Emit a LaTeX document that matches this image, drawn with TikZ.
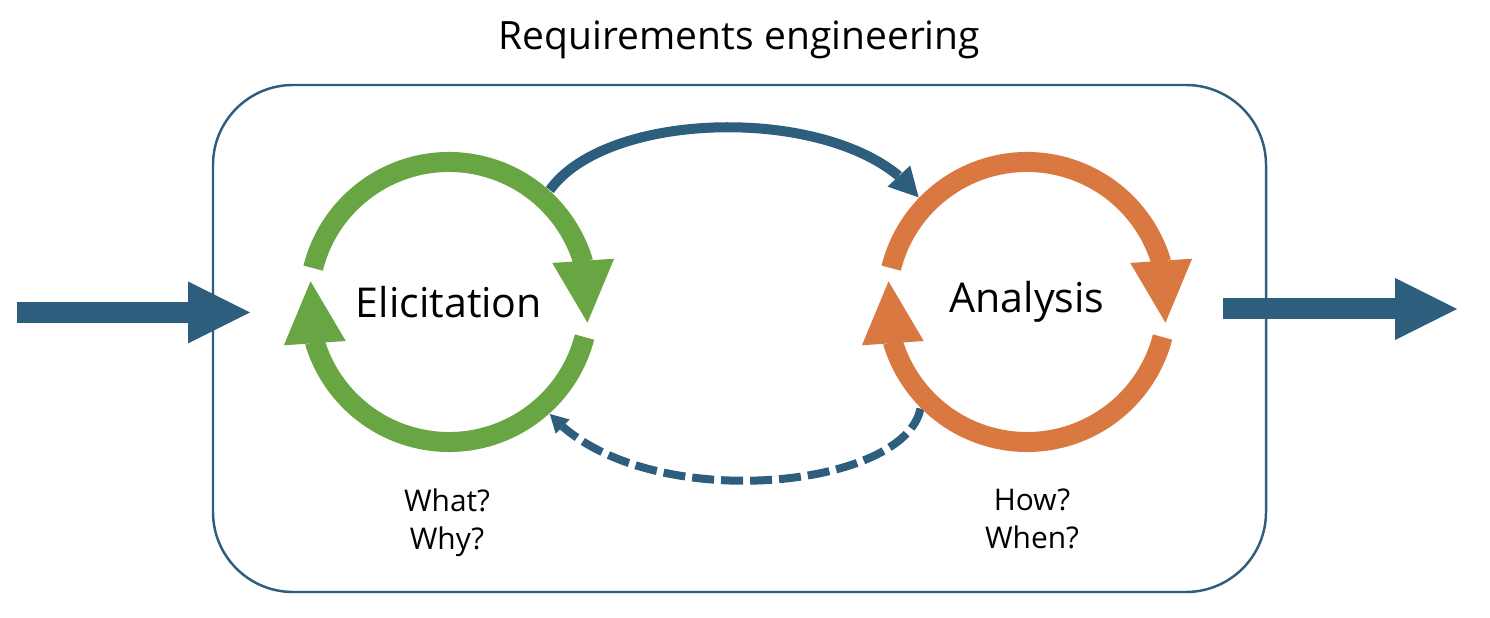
\documentclass[tikz,border=0pt]{standalone}
\usepackage{fontspec}
\setmainfont{Open Sans}
\usetikzlibrary{arrows.meta, bending, positioning}

\definecolor{reblue}{RGB}{46,94,126}
\definecolor{regreen}{RGB}{103,166,66}
\definecolor{reorange}{RGB}{218,120,66}

\begin{document}
\begin{tikzpicture}[
        frame_box/.style={rectangle, draw=reblue, line width=0.7pt, rounded corners=0.8cm, minimum width=10.53cm, minimum height=5.07cm},
        ring_label/.style={circle, minimum size=3cm, inner sep=0pt, font=\fontsize{11.7}{14}\selectfont},
        title_label/.style={font=\fontsize{11.1}{13}\selectfont},
        note_label/.style={align=center, font=\fontsize{8.5}{10.7}\selectfont},
        ring_arc/.style={line width=0.2cm, -{Triangle[width=0.62cm, length=0.62cm, line width=0pt, flex]}},
        big_arrow/.style={draw=reblue, line width=0.21cm, -{Triangle[width=0.62cm, length=0.62cm, line width=0pt]}},
        flow_line/.style={draw=reblue, line width=0.1cm, -{Triangle[width=0.31cm, length=0.29cm, line width=0pt]}},
        back_line/.style={draw=reblue, line width=0.08cm, dash pattern=on 0.22cm off 0.07cm, -{Triangle[width=0.2cm, length=0.18cm, line width=0pt]}}]

        \useasboundingbox (0,0) rectangle (14.9,6.18);

        % Nodes
        \node [frame_box] (re_box) at (7.395,2.795) {};
        \node [title_label, above=0.12cm of re_box] (re_title) {Requirements engineering};

        \node [ring_label] (eli) at (4.49,3.16) {Elicitation};
        \node [ring_label] (ana) at (10.27,3.16) {Analysis};

        \node [note_label, below=0.24cm of eli, xshift=-0.02cm] (eli_note) {What?\\Why?};
        \node [note_label, below=0.24cm of ana, xshift=0.05cm] (ana_note) {How?\\When?};

        % Paths between the two loops (under the rings)
        \draw [flow_line] (eli.48) .. controls +(0.61,0.85) and +(-0.64,0.92) .. (ana.136);
        \draw [back_line] (ana.225) .. controls +(-0.16,-0.82) and +(0.91,-1.02) .. (eli.-48);

        % Rings
        \draw [ring_arc, regreen] ([shift={(166:1.4)}]eli.center) arc [start angle=166, end angle=-8.5, radius=1.4];
        \draw [ring_arc, regreen] ([shift={(-14.5:1.4)}]eli.center) arc [start angle=-14.5, end angle=-188.5, radius=1.4];
        \draw [ring_arc, reorange] ([shift={(166:1.4)}]ana.center) arc [start angle=166, end angle=-8.5, radius=1.4];
        \draw [ring_arc, reorange] ([shift={(-14.5:1.4)}]ana.center) arc [start angle=-14.5, end angle=-188.5, radius=1.4];

        % Input and output arrows
        \coordinate (in_start) at (0.17,3.055);
        \coordinate (in_end) at (2.50,3.055);
        \coordinate (out_start) at (12.23,3.09);
        \coordinate (out_end) at (14.57,3.09);
        \draw [big_arrow] (in_start) -- (in_end);
        \draw [big_arrow] (out_start) -- (out_end);
    \end{tikzpicture}
\end{document}
